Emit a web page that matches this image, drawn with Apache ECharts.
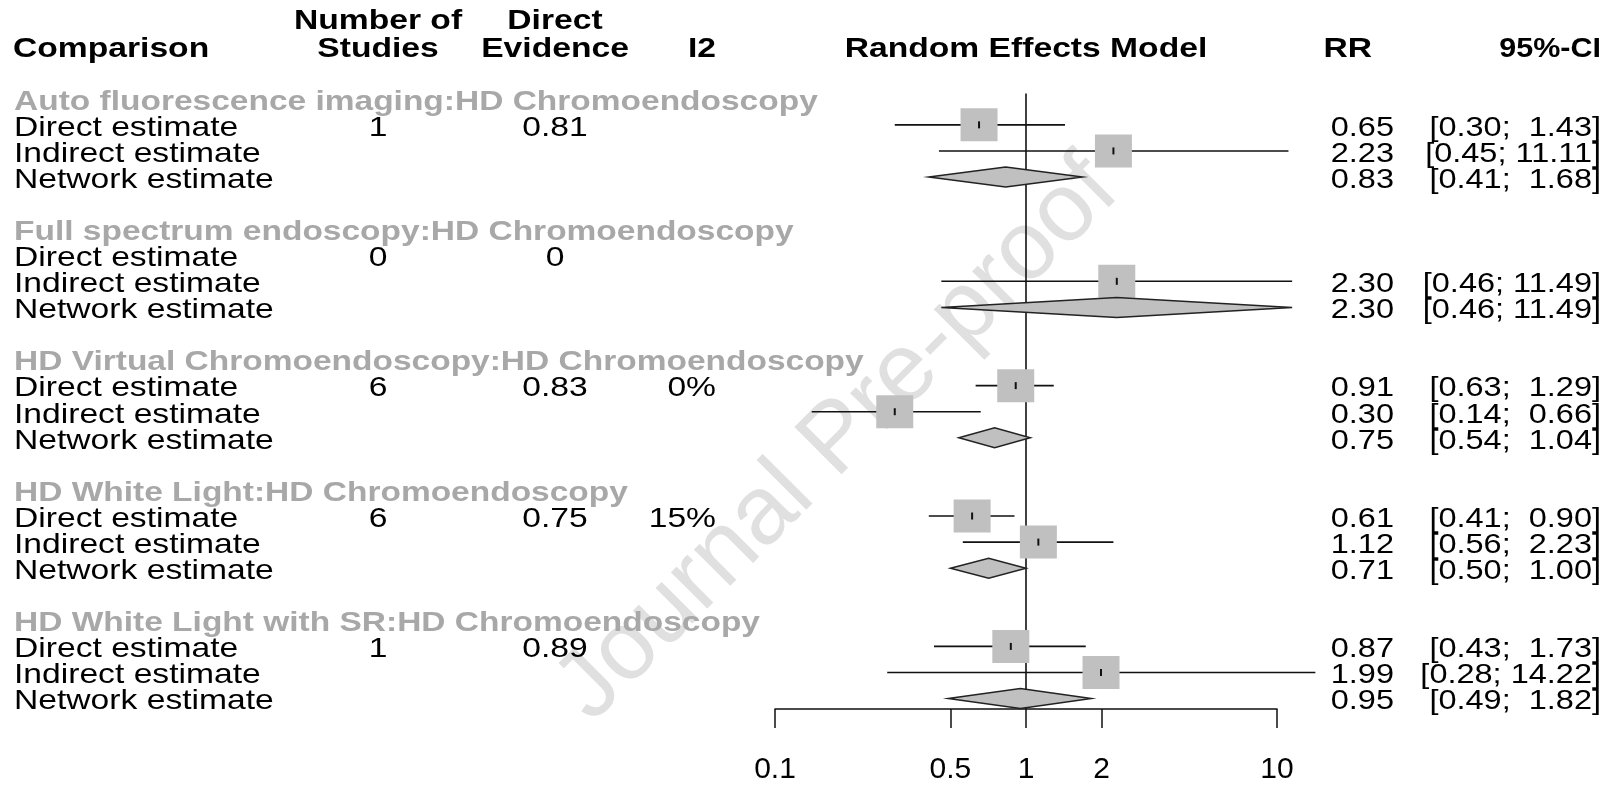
<!DOCTYPE html>
<html>
<head>
<meta charset="utf-8">
<script src="https://cdn.jsdelivr.net/npm/echarts@6/dist/echarts.min.js"></script>
<style>
  html, body { margin: 0; padding: 0; background: #ffffff; }
  #chart { width: 1620px; height: 785px; }
</style>
</head>
<body>
<div id="chart"></div>
<script>
// ---- data -------------------------------------------------------------
const comparisons = [
  'Auto fluorescence imaging:HD Chromoendoscopy',
  'Full spectrum endoscopy:HD Chromoendoscopy',
  'HD Virtual Chromoendoscopy:HD Chromoendoscopy',
  'HD White Light:HD Chromoendoscopy',
  'HD White Light with SR:HD Chromoendoscopy'
];
const estimateLabels = ['Direct estimate', 'Indirect estimate', 'Network estimate'];
const numberOfStudies = ['1', '0', '6', '6', '1'];
const directEvidence = ['0.81', '0', '0.83', '0.75', '0.89'];
const i2Values = ['', '', '0%', '15%', ''];
// risk ratios: [direct, indirect, network] per comparison
const rrValues = [
  [0.65, 2.23, 0.83],
  [null, 2.30, 2.30],
  [0.91, 0.30, 0.75],
  [0.61, 1.12, 0.71],
  [0.87, 1.99, 0.95]
];
const ciLower = [
  [0.30, 0.45, 0.41],
  [null, 0.46, 0.46],
  [0.63, 0.14, 0.54],
  [0.41, 0.56, 0.50],
  [0.43, 0.28, 0.49]
];
const ciUpper = [
  [1.43, 11.11, 1.68],
  [null, 11.49, 11.49],
  [1.29, 0.66, 1.04],
  [0.90, 2.23, 1.00],
  [1.73, 14.22, 1.82]
];
const xTickValues = [0.1, 0.5, 1, 2, 10];
const nullEffect = 1;

// ---- layout -----------------------------------------------------------
const FONT = '"Liberation Sans", Arial, Helvetica, sans-serif';
const FS = 28.5;
const ROWS_PER_GROUP = 5;
const SX_LEFT = 1.18;     // horizontal text stretch, left table
const SX_RIGHT = 1.14;    // horizontal text stretch, RR / CI columns
const TEXT_DY = 3;
const COL_LABEL = 14;
const COL_STUDIES = 378;
const COL_EVIDENCE = 555;
const COL_I2 = 716;
const COL_RR = 1394;
const COL_RR_HEAD = 1372;
const COL_CI = 1601;
const Y_MIN = -0.2, Y_MAX = 23.4;
const ROW_H = 26.2;
const GRID = { left: 775, width: 502, top: 98.8 + Y_MIN * ROW_H, height: (Y_MAX - Y_MIN) * ROW_H };

const fmt2 = v => v.toFixed(2);
function formatCI(lo, hi) {
  return '[' + fmt2(lo).padStart(4, ' ') + '; ' + fmt2(hi).padStart(5, ' ') + ']';
}

// one entry per drawn row of the table
const tableRows = [];
const markData = [];
comparisons.forEach((title, g) => {
  const base = g * ROWS_PER_GROUP;
  tableRows.push({ value: [nullEffect, base], kind: 'title', g: g });
  estimateLabels.forEach((lab, k) => {
    tableRows.push({ value: [nullEffect, base + 1 + k], kind: 'est', g: g, k: k });
    if (rrValues[g][k] != null) {
      markData.push([base + 1 + k, rrValues[g][k], ciLower[g][k], ciUpper[g][k], k === 2 ? 1 : 0]);
    }
  });
});

function txt(x, y, text, o) {
  return {
    type: 'text', x: x, y: y, scaleX: o.sx || 1,
    style: {
      text: text, fill: o.color || '#000', fontSize: FS,
      fontFamily: FONT, fontWeight: o.bold ? 'bold' : 'normal',
      align: o.align || 'left', verticalAlign: 'middle'
    }
  };
}

function renderTable(params, api) {
  const row = tableRows[params.dataIndex];
  const y = api.coord([nullEffect, api.value(1)])[1] + TEXT_DY;
  const kids = [];
  if (row.kind === 'title') {
    kids.push(txt(COL_LABEL, y, comparisons[row.g], { bold: true, color: '#a8a8a8', sx: 1.175 }));
  } else {
    const g = row.g, k = row.k;
    kids.push(txt(COL_LABEL, y, estimateLabels[k], { sx: SX_LEFT }));
    if (k === 0) {
      kids.push(txt(COL_STUDIES, y, numberOfStudies[g], { sx: SX_LEFT, align: 'center' }));
      kids.push(txt(COL_EVIDENCE, y, directEvidence[g], { sx: SX_LEFT, align: 'center' }));
      if (i2Values[g]) kids.push(txt(COL_I2, y, i2Values[g], { sx: SX_LEFT, align: 'right' }));
    }
    if (rrValues[g][k] != null) {
      kids.push(txt(COL_RR, y, fmt2(rrValues[g][k]), { sx: SX_RIGHT, align: 'right' }));
      kids.push(txt(COL_CI, y, formatCI(ciLower[g][k], ciUpper[g][k]), { sx: SX_RIGHT, align: 'right' }));
    }
  }
  return { type: 'group', children: kids };
}

function renderMarks(params, api) {
  const row = api.value(0);
  const pEst = api.coord([api.value(1), row]);
  const pLo = api.coord([api.value(2), row]);
  const pHi = api.coord([api.value(3), row]);
  const y = pEst[1];
  if (api.value(4) === 1) {
    return {
      type: 'polygon',
      shape: { points: [[pLo[0], y], [pEst[0], y - 10], [pHi[0], y], [pEst[0], y + 10]] },
      style: { fill: '#c0c0c0', stroke: '#222', lineWidth: 1.5 }
    };
  }
  return {
    type: 'group',
    children: [
      { type: 'line', shape: { x1: pLo[0], y1: y, x2: pHi[0], y2: y }, style: { stroke: '#111', lineWidth: 1.6 } },
      { type: 'rect', shape: { x: pEst[0] - 18.5, y: y - 16.5, width: 37, height: 33 }, style: { fill: '#c0c0c0' } },
      { type: 'line', shape: { x1: pEst[0], y1: y - 3.5, x2: pEst[0], y2: y + 3.5 }, style: { stroke: '#111', lineWidth: 2 } }
    ]
  };
}

function renderReference(params, api) {
  const top = api.coord([api.value(0), Y_MIN]);
  const bottom = api.coord([api.value(0), Y_MAX]);
  return { type: 'line', shape: { x1: top[0], y1: top[1], x2: bottom[0], y2: bottom[1] }, style: { stroke: '#111', lineWidth: 1.6 } };
}

const header = (text, x, y, align, sx) => ({
  type: 'text', x: x, y: y, scaleX: sx || SX_LEFT,
  style: { text: text, fill: '#000', fontSize: FS, fontWeight: 'bold', fontFamily: FONT, align: align, verticalAlign: 'middle' }
});
const HEAD1 = 21, HEAD2 = 49;

const chart = echarts.init(document.getElementById('chart'), null, { renderer: 'canvas' });
chart.setOption({
  animation: false,
  backgroundColor: '#ffffff',
  grid: GRID,
  xAxis: {
    type: 'log', logBase: 10, min: 0.1, max: 10, position: 'bottom',
    axisLine: { show: true, onZero: false, lineStyle: { color: '#111', width: 1.5 } },
    axisTick: { show: true, inside: false, length: 19, customValues: xTickValues, lineStyle: { color: '#111', width: 1.5 } },
    axisLabel: {
      customValues: xTickValues, margin: 61, verticalAlign: 'middle',
      fontSize: 30, fontFamily: FONT, color: '#000',
      formatter: v => String(v)
    },
    splitLine: { show: false },
    minorTick: { show: false }
  },
  yAxis: { type: 'value', inverse: true, min: Y_MIN, max: Y_MAX, show: false, splitLine: { show: false } },
  graphic: [
    {
      type: 'text', x: 838, y: 440, rotation: Math.PI / 4, z: -10,
      style: { text: 'Journal Pre-proof', fill: '#e0e0e0', fontSize: 97, fontFamily: FONT, align: 'center', verticalAlign: 'middle' }
    },
    header('Comparison', 13, HEAD2, 'left'),
    header('Number of', COL_STUDIES, HEAD1, 'center'),
    header('Studies', COL_STUDIES, HEAD2, 'center'),
    header('Direct', COL_EVIDENCE, HEAD1, 'center'),
    header('Evidence', COL_EVIDENCE, HEAD2, 'center'),
    header('I2', COL_I2, HEAD2, 'right'),
    header('Random Effects Model', 1026, HEAD2, 'center'),
    header('RR', COL_RR_HEAD, HEAD2, 'right'),
    header('95%-CI', COL_CI, HEAD2, 'right', 1.07)
  ],
  series: [
    {
      type: 'custom', name: 'reference', silent: true, clip: false, z: 1,
      data: [[nullEffect, 0]], encode: { x: 0, y: 1 },
      renderItem: renderReference
    },
    {
      type: 'custom', name: 'estimates', silent: true, clip: false, z: 2,
      data: markData, encode: { x: [1, 2, 3], y: 0 },
      renderItem: renderMarks
    },
    {
      type: 'custom', name: 'table', silent: true, clip: false, z: 3,
      data: tableRows, encode: { x: 0, y: 1 },
      renderItem: renderTable
    }
  ]
});
</script>
</body>
</html>
